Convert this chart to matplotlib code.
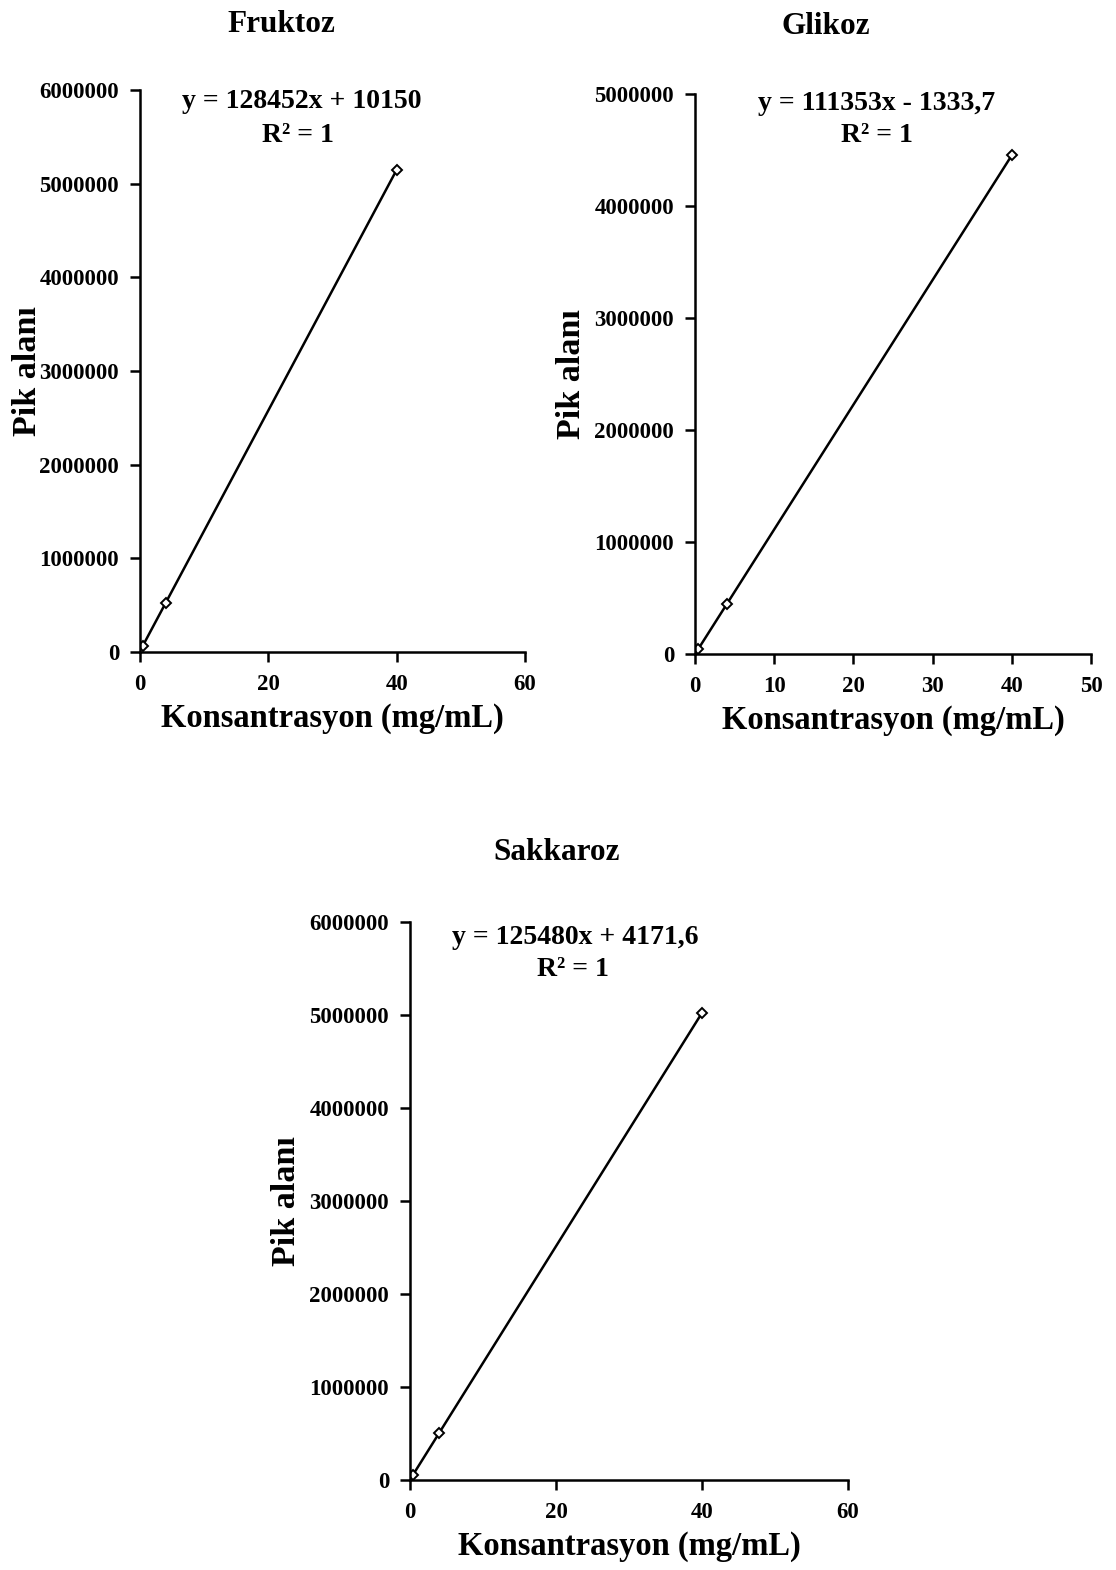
import matplotlib
matplotlib.use("Agg")
import matplotlib.pyplot as plt

# Calibration standards (mg/mL) and measured peak areas
conc = [0.4, 4, 40]
fruktoz_area = [61500, 524000, 5148000]
glikoz_area = [43200, 444000, 4453000]
sakkaroz_area = [54400, 506000, 5023000]

fruktoz_eq = ["y = 128452x + 10150", "R² = 1"]
glikoz_eq = ["y = 111353x - 1333,7", "R² = 1"]
sakkaroz_eq = ["y = 125480x + 4171,6", "R² = 1"]

W, H = 1116, 1570
plt.rcParams["font.family"] = ["Liberation Serif", "DejaVu Serif"]
plt.rcParams["font.weight"] = "bold"

fig = plt.figure(figsize=(W / 100, H / 100), dpi=100)


def panel(box, title, title_xy, y, xmax, xticks, ymax, yticks, eq, eq_xy,
          ylab_x, xlab_y):
    left, top, right, bottom = box
    ax = fig.add_axes([left / W, 1 - bottom / H, (right - left) / W,
                       (bottom - top) / H])
    ax.plot(conc, y, color="black", lw=1.8, marker="D", ms=5,
            mfc="white", mec="black", mew=1.4)
    ax.set_xlim(0, xmax)
    ax.set_ylim(0, ymax)
    ax.set_xticks(xticks)
    ax.set_yticks(yticks)
    ax.set_yticklabels([f"{v:d}" for v in yticks])
    for s in ("top", "right"):
        ax.spines[s].set_visible(False)
    for s in ("left", "bottom"):
        ax.spines[s].set_linewidth(1.8)
    ax.tick_params(direction="out", length=7, width=1.8)
    ax.tick_params(axis="x", labelsize=16.5, pad=9)
    ax.tick_params(axis="y", labelsize=16.5, pad=8)
    for lab in ax.get_xticklabels() + ax.get_yticklabels():
        lab.set_fontweight("bold")
    ax.set_xlabel("Konsantrasyon (mg/mL)", fontsize=23.5, fontweight="bold")
    ax.set_ylabel("Pik alanı", fontsize=24.5, fontweight="bold")
    ax.xaxis.set_label_coords(0.5, 1 - (xlab_y - top) / (bottom - top),
                              transform=ax.transAxes)
    ax.xaxis.label.set_va("center")
    ax.yaxis.set_label_coords((ylab_x - left) / (right - left), 0.5,
                              transform=ax.transAxes)
    ax.yaxis.label.set_va("center")
    fig.text(title_xy[0] / W, 1 - title_xy[1] / H, title, fontsize=22.5,
             fontweight="bold", ha="center", va="center")
    for line, (ex, ey) in zip(eq, eq_xy):
        fig.text(ex / W, 1 - ey / H, line, fontsize=20, fontweight="bold",
                 ha="center", va="center")
    return ax


panel((140, 90, 525, 652), "Fruktoz", (281, 24), fruktoz_area, 60,
      [0, 20, 40, 60], 6000000, list(range(0, 6000001, 1000000)),
      fruktoz_eq, [(302, 102), (298, 135)], 27, 718)

panel((695, 94, 1091, 654), "Glikoz", (826, 26), glikoz_area, 50,
      [0, 10, 20, 30, 40, 50], 5000000, list(range(0, 5000001, 1000000)),
      glikoz_eq, [(877, 103), (877, 135)], 572, 720)

panel((410, 922, 848, 1480), "Sakkaroz", (557, 852), sakkaroz_area, 60,
      [0, 20, 40, 60], 6000000, list(range(0, 6000001, 1000000)),
      sakkaroz_eq, [(575, 937), (573, 969)], 287, 1547)

fig.savefig("out.png", dpi=100, facecolor="white")
